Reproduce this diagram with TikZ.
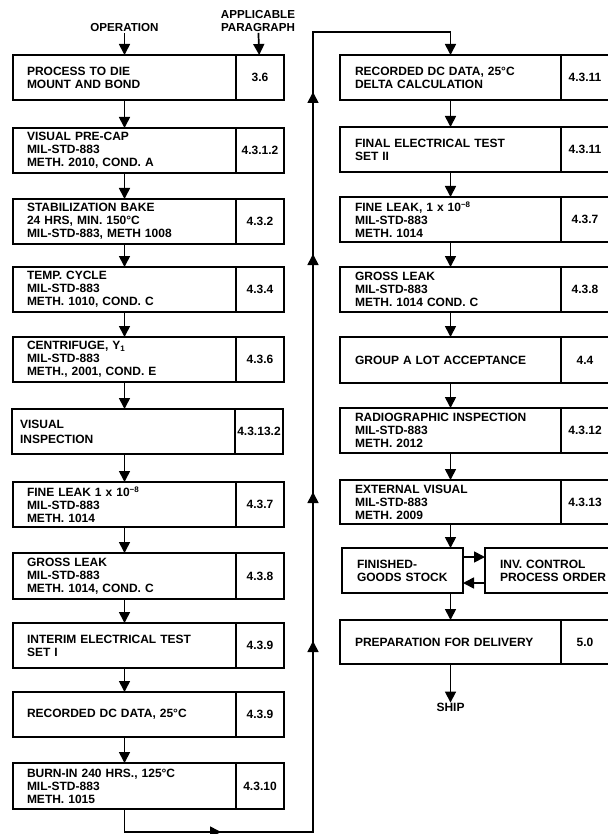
\documentclass[tikz,border=0pt]{standalone}
\usepackage{fontspec}
\setmainfont{Liberation Sans}
\usetikzlibrary{arrows.meta,positioning,decorations.markings}
\tikzset{
  opcell/.style={draw,line width=1.7pt,outer sep=0pt,anchor=north west,minimum height=45pt,text width=195pt,inner xsep=14pt,inner ysep=2pt,align=left},
  opcellR/.style={opcell,text width=191pt,inner xsep=15pt},
  parcell/.style={draw,line width=1.7pt,outer sep=0pt,minimum width=48pt,minimum height=45pt,inner sep=0pt,align=center},
  headlbl/.style={align=center,inner sep=1pt,font=\fontsize{11.6}{13}\selectfont\bfseries},
  flowarrow/.style={-{Triangle[length=11pt,width=11pt]},line width=1.7pt},
  loopline/.style={flowarrow,postaction={decorate},decoration={markings,
    mark=at position 119.5pt with {\arrow{Triangle[length=11pt,width=11pt]}},
    mark=at position 402.5pt with {\arrow{Triangle[length=11pt,width=11pt]}},
    mark=at position 551.5pt with {\arrow{Triangle[length=11pt,width=11pt]}},
    mark=at position 789.5pt with {\arrow{Triangle[length=11pt,width=11pt]}},
    mark=at position 951.5pt with {\arrow{Triangle[length=11pt,width=11pt]}}}}
}

\begin{document}
\begin{tikzpicture}[x=1pt,y=-1pt,font=\fontsize{12}{13}\selectfont\bfseries]
  \fill[white] (0,0) rectangle (607,834);
  \useasboundingbox (0,0) rectangle (607,834);

  \node[headlbl] (opHead) at (124.5,28) {OPERATION};
  \node[headlbl] (parHead) at (258,21) {APPLICABLE\\PARAGRAPH};

  \node[opcell] (die) at (13,55) {PROCESS TO DIE\\MOUNT AND BOND};
  \node[parcell,right=0pt of die] (dieP) {3.6};
  \node[opcell] (precap) at (13,128) {VISUAL PRE-CAP\\MIL-STD-883\\METH. 2010, COND. A};
  \node[parcell,right=0pt of precap] (precapP) {4.3.1.2};
  \node[opcell] (bake) at (13,199) {STABILIZATION BAKE\\24 HRS, MIN. 150°C\\MIL-STD-883, METH 1008};
  \node[parcell,right=0pt of bake] (bakeP) {4.3.2};
  \node[opcell] (tcycle) at (13,267) {TEMP. CYCLE\\MIL-STD-883\\METH. 1010, COND. C};
  \node[parcell,right=0pt of tcycle] (tcycleP) {4.3.4};
  \node[opcell] (centri) at (13,337) {CENTRIFUGE, Y\textsubscript{1}\\MIL-STD-883\\METH., 2001, COND. E};
  \node[parcell,right=0pt of centri] (centriP) {4.3.6};
  \node[opcell,inner xsep=8pt,text width=207pt] (visinsp) at (12,409) {VISUAL\\[2pt]INSPECTION};
  \node[parcell,right=0pt of visinsp] (visinspP) {4.3.13.2};
  \node[opcell] (fleakA) at (13,482) {FINE LEAK 1 x 10\textsuperscript{−8}\\MIL-STD-883\\METH. 1014};
  \node[parcell,right=0pt of fleakA] (fleakAP) {4.3.7};
  \node[opcell,minimum height=46pt] (gleakA) at (13,553) {GROSS LEAK\\MIL-STD-883\\METH. 1014, COND. C};
  \node[parcell,right=0pt of gleakA,minimum height=46pt] (gleakAP) {4.3.8};
  \node[opcell] (interim) at (13,623) {INTERIM ELECTRICAL TEST\\SET I};
  \node[parcell,right=0pt of interim] (interimP) {4.3.9};
  \node[opcell] (rdcA) at (13,692) {RECORDED DC DATA, 25°C};
  \node[parcell,right=0pt of rdcA] (rdcAP) {4.3.9};
  \node[opcell,minimum height=46pt] (burn) at (13,763) {BURN-IN 240 HRS., 125°C\\MIL-STD-883\\METH. 1015};
  \node[parcell,right=0pt of burn,minimum height=46pt] (burnP) {4.3.10};

  \draw[flowarrow] (opHead)--(die); \draw[flowarrow] (parHead)--(dieP);
  \draw[flowarrow] (die)--(precap); \draw[flowarrow] (precap)--(bake);
  \draw[flowarrow] (bake)--(tcycle); \draw[flowarrow] (tcycle)--(centri);
  \draw[flowarrow] (centri.south)--(centri.south |- visinsp.north);
  \draw[flowarrow] (visinsp.south -| centri.south)--(fleakA.north);
  \draw[flowarrow] (fleakA)--(gleakA); \draw[flowarrow] (gleakA)--(interim);
  \draw[flowarrow] (interim)--(rdcA); \draw[flowarrow] (rdcA)--(burn);

  \node[opcellR] (rdcB) at (340,55) {RECORDED DC DATA, 25°C\\DELTA CALCULATION};
  \node[parcell,right=0pt of rdcB] (rdcBP) {4.3.11};
  \node[opcellR] (final) at (340,127) {FINAL ELECTRICAL TEST\\SET II};
  \node[parcell,right=0pt of final] (finalP) {4.3.11};
  \node[opcellR] (fleakB) at (340,197) {FINE LEAK, 1 x 10\textsuperscript{−8}\\MIL-STD-883\\METH. 1014};
  \node[parcell,right=0pt of fleakB] (fleakBP) {4.3.7};
  \node[opcellR] (gleakB) at (340,267) {GROSS LEAK\\MIL-STD-883\\METH. 1014 COND. C};
  \node[parcell,right=0pt of gleakB] (gleakBP) {4.3.8};
  \node[opcellR,minimum height=46pt] (groupA) at (340,337) {GROUP A LOT ACCEPTANCE};
  \node[parcell,right=0pt of groupA,minimum height=46pt] (groupAP) {4.4};
  \node[opcellR] (radio) at (340,408) {RADIOGRAPHIC INSPECTION\\MIL-STD-883\\METH. 2012};
  \node[parcell,right=0pt of radio] (radioP) {4.3.12};
  \node[opcellR,minimum height=44pt] (extvis) at (340,480) {EXTERNAL VISUAL\\MIL-STD-883\\METH. 2009};
  \node[parcell,right=0pt of extvis,minimum height=44pt] (extvisP) {4.3.13};
  \node[opcell,text width=91pt,inner xsep=15pt] (stock) at (342,548) {FINISHED-\\GOODS STOCK};
  \node[opcell,text width=116pt,inner xsep=15pt] (invctl) at (485,548) {INV. CONTROL\\PROCESS ORDER};
  \node[opcellR,minimum height=44pt] (prep) at (340,620) {PREPARATION FOR DELIVERY};
  \node[parcell,right=0pt of prep,minimum height=44pt] (prepP) {5.0};
  \node[inner sep=0pt] (ship) at ([yshift=-43pt]prep.south) {SHIP};

  \draw[flowarrow] (rdcB)--(final); \draw[flowarrow] (final)--(fleakB);
  \draw[flowarrow] (fleakB)--(gleakB); \draw[flowarrow] (gleakB)--(groupA);
  \draw[flowarrow] (groupA)--(radio); \draw[flowarrow] (radio)--(extvis);
  \draw[flowarrow] (extvis.south)--(extvis.south |- stock.north);
  \draw[flowarrow] (extvis.south |- stock.south)--(prep.north);
  \draw[flowarrow] ([yshift=13.5pt]stock.east)--([yshift=13.5pt]invctl.west);
  \draw[flowarrow] ([yshift=-12.5pt]invctl.west)--([yshift=-12.5pt]stock.east);
  \draw[flowarrow] (prep)--(ship);

  \coordinate (loopBot) at (313,832);
  \coordinate (loopTop) at (313,32);
  \draw[loopline] (burn.south) |- (loopBot)--(loopTop) -| (rdcB.north);
\end{tikzpicture}
\end{document}
